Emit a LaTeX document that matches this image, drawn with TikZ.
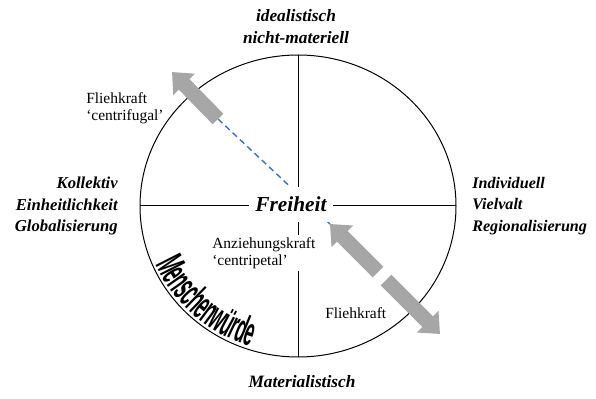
\documentclass[tikz,border=0pt]{standalone}
\usepackage{fontspec}
\setmainfont{Liberation Serif}
\newfontfamily\menschfont[FakeStretch=0.42]{Liberation Sans Bold}
\usetikzlibrary{arrows.meta,decorations.text}
\definecolor{arrowgray}{RGB}{166,166,166}
\definecolor{dashblue}{RGB}{68,114,196}
\tikzset{
  axisline/.style={line width=0.75pt,black},
  bluedash/.style={dashblue,line width=1.1pt,dash pattern=on 4.5pt off 3pt},
  bigarrow/.style={arrowgray,line width=11.25pt,-{Triangle[width=22pt,length=13pt]}},
  sidelabel/.style={font=\fontsize{12.5}{16}\selectfont\bfseries\itshape,inner sep=0pt},
  toplabel/.style={font=\fontsize{13}{16.5}\selectfont\bfseries\itshape,inner sep=0pt,align=center},
  forcelabel/.style={font=\fontsize{11.6}{12.75}\selectfont,inner sep=0pt,align=left},
}
\begin{document}
\begin{tikzpicture}[x=0.75pt,y=-0.75pt]
\useasboundingbox (0,0) rectangle (596,399);
% axes
\coordinate (c) at (298,206);
\coordinate (left) at (140,206);
\coordinate (right) at (456,206);
\coordinate (top) at (298,55);
\coordinate (bottom) at (298,357);
\draw[axisline] (c) ellipse [x radius=158, y radius=151];
\draw[axisline] (left) -- (right);
\draw[axisline] (top) -- (bottom);
% arrows
\coordinate (ulTail) at (218,119);
\coordinate (ulTip) at (172,72);
\coordinate (lrTailA) at (378,272);
\coordinate (lrTipA) at (330,224);
\coordinate (lrTailB) at (386,280);
\coordinate (lrTipB) at (440,334);
\draw[bluedash] (ulTail) -- (lrTipA);
\draw[bigarrow] (ulTail) -- (ulTip);
\draw[bigarrow] (lrTailA) -- (lrTipA);
\draw[bigarrow] (lrTailB) -- (lrTipB);
% Menschenwuerde along the circle
\path[decorate,decoration={text along path,text align=center,raise=2.5pt,
  text={|\menschfont\fontsize{30}{30}\selectfont|Menschenwürde}}]
  (c) ++(164:158 and 151) arc[start angle=164,end angle=101,x radius=158,y radius=151];
% labels
\node[fill=white,inner xsep=4.5pt,inner ysep=0pt,minimum height=26pt,
  font=\fontsize{16}{18}\selectfont\bfseries\itshape] (freiheit) at (291,204.5) {Freiheit};
\node[toplabel] (ideal) at (296,27) {idealistisch\\nicht-materiell};
\node[toplabel] (mat) at (302,382) {Materialistisch};
\node[sidelabel,anchor=east,align=right] (koll) at (118,206) {Kollektiv\\Einheitlichkeit\\Globalisierung};
\node[sidelabel,anchor=west,align=left,font=\fontsize{12.1}{16}\selectfont\bfseries\itshape] (indiv) at (472,206) {Individuell\\Vielvalt\\Regionalisierung};
\node[forcelabel,anchor=west] (flieh1) at (86,108) {Fliehkraft\\‘centrifugal’};
\node[forcelabel,anchor=west,fill=white,inner ysep=2pt] (anz) at (212,253) {Anziehungskraft\\‘centripetal’};
\node[forcelabel,anchor=west] (flieh2) at (325,313) {Fliehkraft};
\end{tikzpicture}
\end{document}
